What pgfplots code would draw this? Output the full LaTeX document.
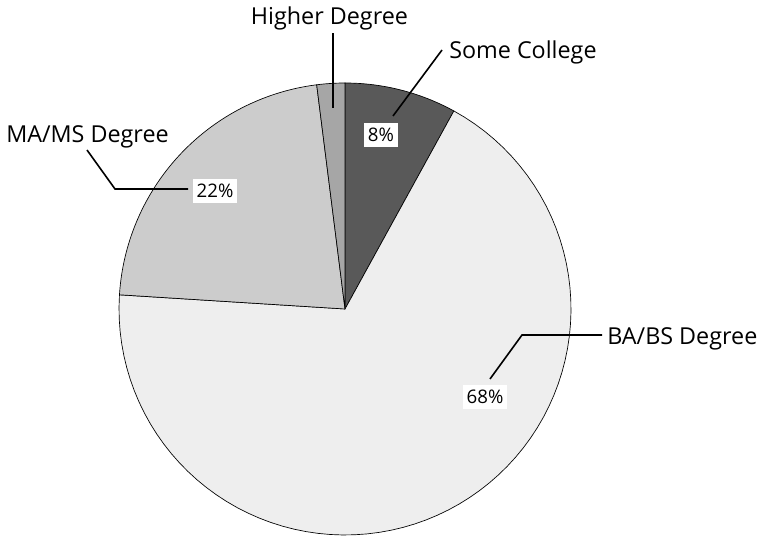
\documentclass[border=0pt]{standalone}
\usepackage{pgfplots}
\pgfplotsset{compat=1.18}
\usepackage{fontspec}
\setmainfont{Open Sans}

\definecolor{cSome}{HTML}{595959}
\definecolor{cBA}{HTML}{EEEEEE}
\definecolor{cMA}{HTML}{CCCCCC}
\definecolor{cHigh}{HTML}{A6A6A6}

% pie radius in axis units
\def\R{226}

% \slice{cumulative share before}{share}{colour}: clockwise from 12 o'clock
\newcommand\slice[3]{%
  \pgfmathsetmacro\angA{90-3.6*#1}%
  \pgfmathsetmacro\angB{90-3.6*(#1+#2)}%
  \addplot[draw=black, line width=0.5pt, fill=#3, domain=\angA:\angB,
           samples=80, variable=\t]
    ({\R*cos(\t)},{\R*sin(\t)}) -- (axis cs:0,0) -- cycle;
}

\tikzset{
  catlabel/.style={font=\fontsize{17.5}{20}\selectfont, inner sep=0pt},
  vallabel/.style={fill=white, inner xsep=3pt, inner ysep=3.5pt, font=\fontsize{14}{16}\selectfont},
}

\begin{document}
\begin{tikzpicture}
\begin{axis}[
  x=0.75pt, y=0.75pt,
  scale only axis,
  hide axis,
  xmin=-345, xmax=415,
  ymin=-229, ymax=309,
  clip=false,
]
\path (axis cs:-345,-229) rectangle (axis cs:415,309);

% shares in percent: Some College, BA/BS, MA/MS, Higher Degree
\slice{0}{8}{cSome}
\slice{8}{68}{cBA}
\slice{76}{22}{cMA}
\slice{98}{2}{cHigh}

% leader lines
\addplot[black, line width=1.2pt] coordinates {(48,193) (97,259)};
\addplot[black, line width=1.2pt] coordinates {(-12,201) (-12,276)};
\addplot[black, line width=1.2pt] coordinates {(-258,159) (-230,120) (-157,120)};
\addplot[black, line width=1.2pt] coordinates {(145,-70) (177,-26) (257,-26)};

% category labels
\node[catlabel, anchor=base west] at (axis cs:104,250) {Some College};
\node[catlabel, anchor=base] at (axis cs:-15.5,284) {Higher Degree};
\node[catlabel, anchor=base] at (axis cs:-257.5,166) {MA/MS Degree};
\node[catlabel, anchor=base west] at (axis cs:262,-36) {BA/BS Degree};

% value labels
\node[vallabel] at (axis cs:36,174) {8\%};
\node[vallabel] at (axis cs:-130,118) {22\%};
\node[vallabel] at (axis cs:140,-88) {68\%};
\end{axis}
\end{tikzpicture}
\end{document}
